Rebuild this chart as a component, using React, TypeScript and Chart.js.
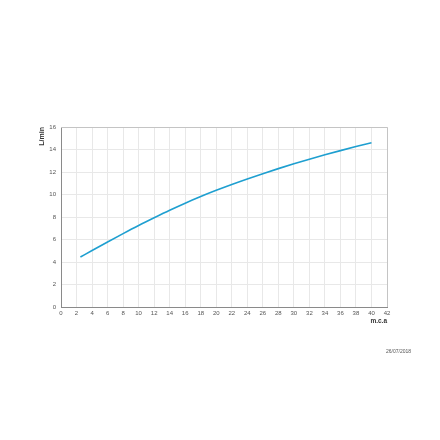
import React, { useEffect, useRef } from "react";
import { Chart, registerables } from "chart.js";

Chart.register(...registerables);

const pressure = [2.5, 4, 6, 8, 10, 12, 14, 16, 18, 20, 22, 24, 26, 28, 30, 32, 34, 36, 38, 40];
const flow = [4.44, 5.02, 5.78, 6.52, 7.24, 7.93, 8.6, 9.23, 9.82, 10.37, 10.89, 11.38, 11.85, 12.3, 12.73, 13.14, 13.53, 13.9, 14.26, 14.6];
const xTitle = "m.c.a";
const yTitle = "L/min";
const dateLabel = "26/07/2018";

const frame = {
  id: "frame",
  beforeDatasetsDraw(chart: any) {
    const { ctx, chartArea: a } = chart;
    ctx.save();
    ctx.strokeStyle = "#c4c4c4";
    ctx.lineWidth = 1;
    ctx.beginPath();
    ctx.moveTo(a.left, a.top + 0.5);
    ctx.lineTo(a.right + 0.5, a.top + 0.5);
    ctx.lineTo(a.right + 0.5, a.bottom);
    ctx.stroke();
    ctx.restore();
  },
  afterDraw(chart: any) {
    const { ctx } = chart;
    ctx.save();
    ctx.fillStyle = "#555";
    ctx.font = "5px 'Liberation Sans', Arial, sans-serif";
    ctx.textAlign = "right";
    ctx.textBaseline = "middle";
    ctx.fillText(dateLabel, 411, 352);
    ctx.restore();
  },
};

export default function App() {
  const ref = useRef<HTMLCanvasElement | null>(null);
  useEffect(() => {
    if (!ref.current) return;
    const tickFont = { family: "'Liberation Sans', Arial, sans-serif", size: 6 };
    const chart = new Chart(ref.current, {
      type: "line",
      data: {
        datasets: [
          {
            data: pressure.map((x, i) => ({ x, y: flow[i] })),
            borderColor: "#1e9fd0",
            borderWidth: 1.6,
            pointRadius: 0,
            cubicInterpolationMode: "monotone",
            fill: false,
          },
        ],
      },
      options: {
        animation: false,
        responsive: false,
        maintainAspectRatio: false,
        layout: { padding: { left: 34, right: 53, top: 127, bottom: 111 } },
        plugins: { legend: { display: false }, tooltip: { enabled: false } },
        scales: {
          x: {
            type: "linear",
            min: 0,
            max: 42,
            afterFit: (s: any) => {
              s.height = 22;
            },
            ticks: { stepSize: 2, color: "#555", font: tickFont, padding: 3, maxRotation: 0, autoSkip: false },
            grid: { color: "#e8e8e8", drawTicks: false },
            border: { color: "#8a8a8a", width: 1 },
            title: {
              display: true,
              text: xTitle,
              align: "end",
              color: "#333",
              font: { family: "'Liberation Sans', Arial, sans-serif", size: 6.5, weight: "bold" },
              padding: { top: 2, bottom: 4 },
            },
          },
          y: {
            min: 0,
            max: 16,
            afterFit: (s: any) => {
              s.width = 27;
            },
            ticks: { stepSize: 2, color: "#555", font: tickFont, padding: 5 },
            grid: { color: "#e8e8e8", drawTicks: false },
            border: { color: "#8a8a8a", width: 1 },
            title: {
              display: true,
              text: yTitle,
              align: "end",
              color: "#333",
              font: { family: "'Liberation Sans', Arial, sans-serif", size: 7, weight: "bold" },
              padding: { top: 4, bottom: 4 },
            },
          },
        },
      },
      plugins: [frame],
    });
    return () => chart.destroy();
  }, []);
  return (
    <div style={{ position: "absolute", left: 0, top: 0, width: 440, height: 440, background: "#fff" }}>
      <canvas ref={ref} width={440} height={440} style={{ width: 440, height: 440 }} />
    </div>
  );
}
